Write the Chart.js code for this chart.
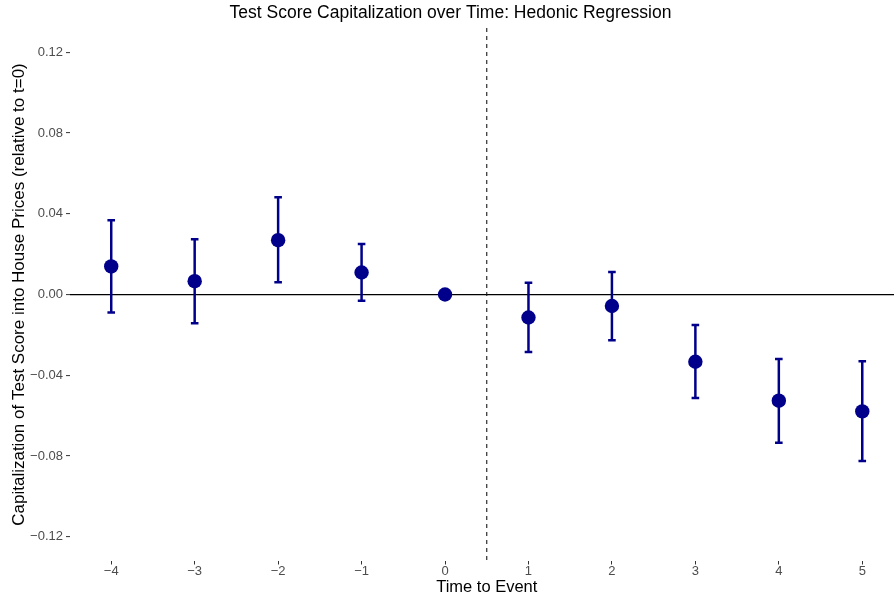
<!DOCTYPE html>
<html>
<head>
<meta charset="utf-8">
<script src="https://cdn.jsdelivr.net/npm/chart.js@4/dist/chart.umd.min.js"></script>
<style>
  body { margin: 0; background: #fff; }
  canvas { display: block; }
</style>
</head>
<body>
<canvas id="eventChart" width="894" height="599"></canvas>
<script>
// event time, point estimate and 95% CI
const eventTimes = [-4, -3, -2, -1, 0, 1, 2, 3, 4, 5];
const estimates = [0.0139, 0.0066, 0.0269, 0.0109, 0.0, -0.0114, -0.0057, -0.0333, -0.0526, -0.0579];
const ciLower = [-0.0089, -0.0142, 0.0061, -0.0031, null, -0.0285, -0.0226, -0.0513, -0.0734, -0.0825];
const ciUpper = [0.0368, 0.0274, 0.0482, 0.0250, null, 0.0058, 0.0112, -0.0151, -0.0320, -0.0330];
const yTicks = [-0.12, -0.08, -0.04, 0.0, 0.04, 0.08, 0.12];
const xTicks = [-4, -3, -2, -1, 0, 1, 2, 3, 4, 5];
const eventLine = 0.5;

const navy = "#00008B";
const font = "'Liberation Sans', Arial, Helvetica, sans-serif";
const overhang = 10; // original figure is cropped on the right

function minus(s) {
  return s.replace("-", "\u2212");
}

// vertical stems: lo -> hi, broken with a null between intervals
const stems = [];
eventTimes.forEach((t, i) => {
  if (ciLower[i] === null) return;
  stems.push({ x: t, y: ciLower[i] });
  stems.push({ x: t, y: ciUpper[i] });
  stems.push({ x: t, y: null });
});

// let the panel run past the right edge of the canvas
const cropRight = {
  id: "cropRight",
  afterLayout(chart) {
    const x = chart.scales.x;
    chart.chartArea.right += overhang;
    chart.chartArea.width += overhang;
    x.right += overhang;
    x.width += overhang;
    x.configure();
    if (chart.titleBlock) chart.titleBlock.right += 7;
  },
};

const dashedLine = {
  id: "dashedLine",
  beforeDatasetsDraw(chart) {
    const { ctx, chartArea, scales } = chart;
    const px = scales.x.getPixelForValue(eventLine);
    ctx.save();
    ctx.strokeStyle = "#1a1a1a";
    ctx.lineWidth = 1.1;
    ctx.setLineDash([4, 4]);
    ctx.beginPath();
    ctx.moveTo(px, chartArea.top);
    ctx.lineTo(px, chartArea.bottom);
    ctx.stroke();
    ctx.restore();
  },
};

new Chart(document.getElementById("eventChart").getContext("2d"), {
  type: "scatter",
  data: {
    datasets: [
      {
        type: "line",
        data: stems,
        borderColor: navy,
        borderWidth: 2.5,
        pointRadius: 0,
        spanGaps: false,
        fill: false,
      },
      {
        data: eventTimes.map((t, i) => ({ x: t, y: ciUpper[i] })),
        pointStyle: "line",
        pointRadius: 3.8,
        borderColor: navy,
        borderWidth: 2.5,
      },
      {
        data: eventTimes.map((t, i) => ({ x: t, y: ciLower[i] })),
        pointStyle: "line",
        pointRadius: 3.8,
        borderColor: navy,
        borderWidth: 2.5,
      },
      {
        data: eventTimes.map((t, i) => ({ x: t, y: estimates[i] })),
        pointRadius: 7.2,
        backgroundColor: navy,
        borderWidth: 0,
      },
    ],
  },
  options: {
    responsive: false,
    animation: false,
    layout: { autoPadding: false, padding: 0 },
    plugins: {
      legend: { display: false },
      tooltip: { enabled: false },
      title: {
        display: true,
        text: "Test Score Capitalization over Time: Hedonic Regression",
        color: "#000",
        font: { family: font, size: 17.5, weight: "normal" },
        padding: { top: 3, bottom: 4 },
      },
    },
    scales: {
      x: {
        type: "linear",
        min: -4.5,
        max: 5.5,
        afterBuildTicks: (scale) => {
          scale.ticks = xTicks.map((v) => ({ value: v }));
        },
        afterFit: (scale) => {
          scale.height = 38;
          scale.paddingLeft = 0;
          scale.paddingRight = 0;
        },
        ticks: {
          color: "#4D4D4D",
          font: { family: font, size: 13, lineHeight: 1 },
          padding: 0,
          maxRotation: 0,
          callback: (v) => minus(String(v)),
        },
        grid: {
          drawOnChartArea: false,
          drawTicks: true,
          tickLength: 3.5,
          tickColor: "#333333",
          tickWidth: 1,
        },
        border: { display: false },
        title: {
          display: true,
          text: "Time to Event",
          color: "#000",
          font: { family: font, size: 16.5 },
          padding: { top: 0, bottom: 1.8 },
        },
      },
      y: {
        min: -0.132,
        max: 0.132,
        afterBuildTicks: (scale) => {
          scale.ticks = yTicks.map((v) => ({ value: v }));
        },
        afterFit: (scale) => {
          scale.width = 69.5;
        },
        ticks: {
          color: "#4D4D4D",
          font: { family: font, size: 13 },
          padding: 3,
          callback: (v) => minus(Number(v).toFixed(2)),
        },
        grid: {
          color: (ctx) => (ctx.tick && ctx.tick.value === 0 ? "#000" : "rgba(0,0,0,0)"),
          lineWidth: 1.2,
          drawTicks: true,
          tickLength: 3.5,
          tickColor: "#333333",
          tickWidth: 1,
        },
        border: { display: false },
        title: {
          display: true,
          text: "Capitalization of Test Score into House Prices (relative to t=0)",
          color: "#000",
          font: { family: font, size: 17 },
          padding: { top: 9.5, bottom: 0 },
        },
      },
    },
  },
  plugins: [cropRight, dashedLine],
});
</script>
</body>
</html>
